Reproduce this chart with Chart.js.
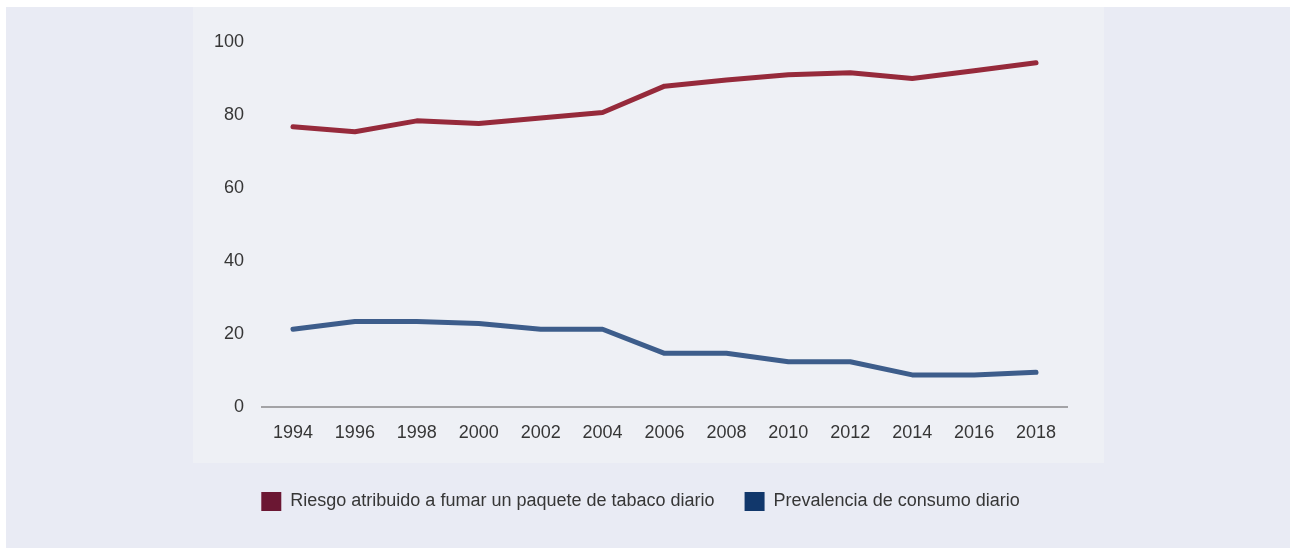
<!DOCTYPE html>
<html>
<head>
<meta charset="utf-8">
<script src="https://cdn.jsdelivr.net/npm/chart.js@4"></script>
<style>
    body { margin: 0; background: #ffffff; }
    #wrap { position: relative; width: 1290px; height: 548px; overflow: hidden; }
    #outer { position: absolute; left: 6px; top: 7px; width: 1284px; height: 541px; background: #e9ebf4; }
    #inner { position: absolute; left: 193px; top: 7px; width: 911px; height: 456px; background: #eef0f5; }
    #chart { position: absolute; left: 0; top: 0; }
</style>
</head>
<body>
<div id="wrap">
    <div id="outer"></div>
    <div id="inner"></div>
    <canvas id="chart" width="1290" height="548"></canvas>
</div>
<script>
const years = ["1994", "1996", "1998", "2000", "2002", "2004", "2006",
    "2008", "2010", "2012", "2014", "2016", "2018"];
const riesgo = [76.8, 75.4, 78.4, 77.7, 79.2, 80.7, 87.9, 89.6, 91.0, 91.6, 90.0, 92.1, 94.3];
const prevalencia = [21.3, 23.4, 23.4, 22.9, 21.3, 21.3, 14.7, 14.7, 12.4, 12.4, 8.8, 8.8, 9.5];
const seriesNames = ["Riesgo atribuido a fumar un paquete de tabaco diario",
    "Prevalencia de consumo diario"];

const textColor = "#363636";
const fontFamily = "'Liberation Sans', Arial, sans-serif";

new Chart(
    document.getElementById("chart"),
    {
        type: "line",
        data: {
            labels: years,
            datasets: [{
                label: seriesNames[0],
                data: riesgo,
                borderColor: "#962a3b",
                backgroundColor: "#6b1733",
                borderWidth: 5,
                borderCapStyle: "round",
                borderJoinStyle: "round",
                pointRadius: 0,
                tension: 0,
                clip: false
            }, {
                label: seriesNames[1],
                data: prevalencia,
                borderColor: "#3d5d8b",
                backgroundColor: "#11376b",
                borderWidth: 5,
                borderCapStyle: "round",
                borderJoinStyle: "round",
                pointRadius: 0,
                tension: 0,
                clip: false
            }]
        },
        options: {
            responsive: false,
            animation: false,
            layout: {
                padding: { left: 190, right: 199, top: 42, bottom: 27 }
            },
            scales: {
                x: {
                    offset: true,
                    grid: { display: false, drawTicks: false },
                    border: { display: true, color: "#a3a3a6", width: 2 },
                    ticks: {
                        color: textColor,
                        padding: 15,
                        maxRotation: 0,
                        font: { family: fontFamily, size: 18 }
                    },
                    afterFit(scale) { scale.height = 55; }
                },
                y: {
                    min: 0,
                    max: 100,
                    grid: { display: false, drawTicks: false },
                    border: { display: false },
                    ticks: {
                        stepSize: 20,
                        color: textColor,
                        padding: 18,
                        font: { family: fontFamily, size: 18 }
                    },
                    afterFit(scale) { scale.width = 72; }
                },
                // empty right axis, only keeps the legend centred like the original
                yRight: {
                    position: "right",
                    min: 0,
                    max: 100,
                    grid: { display: false, drawTicks: false },
                    border: { display: false },
                    ticks: { display: false },
                    afterFit(scale) { scale.width = 24; }
                }
            },
            plugins: {
                tooltip: { enabled: false },
                legend: {
                    position: "bottom",
                    labels: {
                        boxWidth: 20,
                        boxHeight: 19,
                        padding: 30,
                        color: textColor,
                        font: { family: fontFamily, size: 18 },
                        generateLabels(chart) {
                            return chart.data.datasets.map((ds, i) => ({
                                text: ds.label,
                                fillStyle: ds.backgroundColor,
                                strokeStyle: ds.backgroundColor,
                                lineWidth: 0,
                                fontColor: textColor,
                                hidden: false,
                                datasetIndex: i
                            }));
                        }
                    }
                }
            }
        }
    }
);
</script>
</body>
</html>
